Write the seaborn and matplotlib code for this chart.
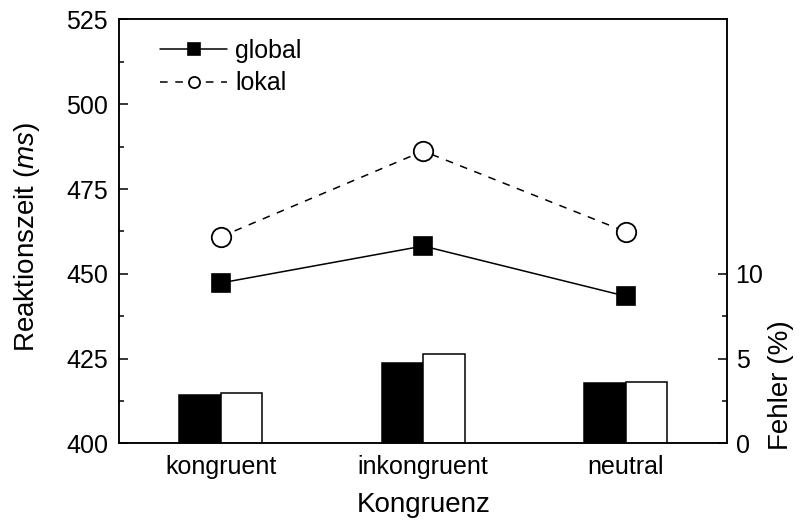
import numpy as np
import pandas as pd
import matplotlib
matplotlib.use('Agg')
import matplotlib.pyplot as plt
from matplotlib.ticker import FixedLocator
import seaborn as sns

# values
conditions = ['kongruent', 'inkongruent', 'neutral']
levels = ['global', 'lokal']
rt_global = [447.3, 458.2, 443.4]   # Reaktionszeit (ms)
rt_lokal = [460.9, 486.2, 462.4]
err_global = [2.85, 4.75, 3.54]     # Fehler (%)
err_lokal = [2.95, 5.27, 3.61]

sns.set_style('ticks', {'axes.edgecolor': 'black', 'xtick.color': 'black',
                        'ytick.color': 'black', 'text.color': 'black',
                        'axes.labelcolor': 'black'})
plt.rcParams['font.family'] = ['Liberation Sans', 'DejaVu Sans']
plt.rcParams['mathtext.fontset'] = 'custom'
plt.rcParams['mathtext.rm'] = 'Liberation Sans'
plt.rcParams['mathtext.it'] = 'Liberation Sans:italic'
plt.rcParams['axes.linewidth'] = 1.1

fig = plt.figure(figsize=(8, 5.26), dpi=100)
ax = fig.add_axes([0.149, 0.157, 0.76, 0.806])
ax2 = ax.twinx()

# error rates on the right axis
err = pd.DataFrame({
    'Kongruenz': conditions * 2,
    'Fehler': err_global + err_lokal,
    'Ebene': [levels[0]] * 3 + [levels[1]] * 3,
})
sns.barplot(data=err, x='Kongruenz', y='Fehler', hue='Ebene', order=conditions,
            palette=['black', 'white'], saturation=1, width=0.41,
            edgecolor='black', linewidth=1.1, legend=False, ax=ax2)

# reaction times on the left axis
sns.pointplot(x=conditions, y=rt_global, order=conditions, color='black',
              markers='s', linestyles='-', errorbar=None, label=levels[0],
              linewidth=1.1, markersize=13.5, markeredgewidth=1.2, ax=ax)
sns.pointplot(x=conditions, y=rt_lokal, order=conditions, color='black',
              markers='o', linestyles='--', errorbar=None, label=levels[1],
              linewidth=1.1, markersize=14, markeredgewidth=1.3,
              markerfacecolor='white', dashes=(5, 5), ax=ax)

ax.set_xlim(-0.5, 2.5)
ax.set_ylim(400, 525)
ax.set_yticks(np.arange(400, 526, 25))
ax.yaxis.set_minor_locator(FixedLocator(np.arange(412.5, 525, 25)))
ax.tick_params(axis='y', which='both', direction='in', labelsize=18,
               width=1.1, pad=8)
ax.tick_params(axis='y', which='major', length=6.5)
ax.tick_params(axis='y', which='minor', length=3.5)
ax.tick_params(axis='x', length=0, labelsize=18, pad=8)
ax.set_xticks(range(len(conditions)))
ax.set_xticklabels(conditions)
ax.set_xlabel('Kongruenz', fontsize=20, labelpad=10)
ax.set_ylabel('')

ax2.set_ylim(0, 25)
ax2.set_yticks([0, 5, 10])
ax2.yaxis.set_minor_locator(FixedLocator([2.5, 7.5]))
ax2.tick_params(axis='y', which='both', direction='in', labelsize=18,
                width=1.1, pad=6)
ax2.tick_params(axis='y', which='major', length=6.5)
ax2.tick_params(axis='y', which='minor', length=3.5)
ax2.set_ylabel('')
ax2.set_xlim(-0.5, 2.5)

for a in (ax, ax2):
    for s in a.spines.values():
        s.set_visible(True)
        s.set_linewidth(1.1)
        s.set_color('black')

fig.text(0.034, 0.55, 'Reaktionszeit ($\\mathit{ms}$)', rotation=90,
         ha='center', va='center', fontsize=20)
fig.text(0.976, 0.268, 'Fehler (%)', rotation=90,
         ha='center', va='center', fontsize=20)

leg = ax.legend(loc='upper left', bbox_to_anchor=(0.067, 0.955), frameon=False,
                fontsize=18, borderpad=0, borderaxespad=0, handlelength=2.7,
                handletextpad=0.3, labelspacing=0.35)
for h in leg.legend_handles:
    h.set_markersize(8)

fig.savefig('out.png', dpi=100)
